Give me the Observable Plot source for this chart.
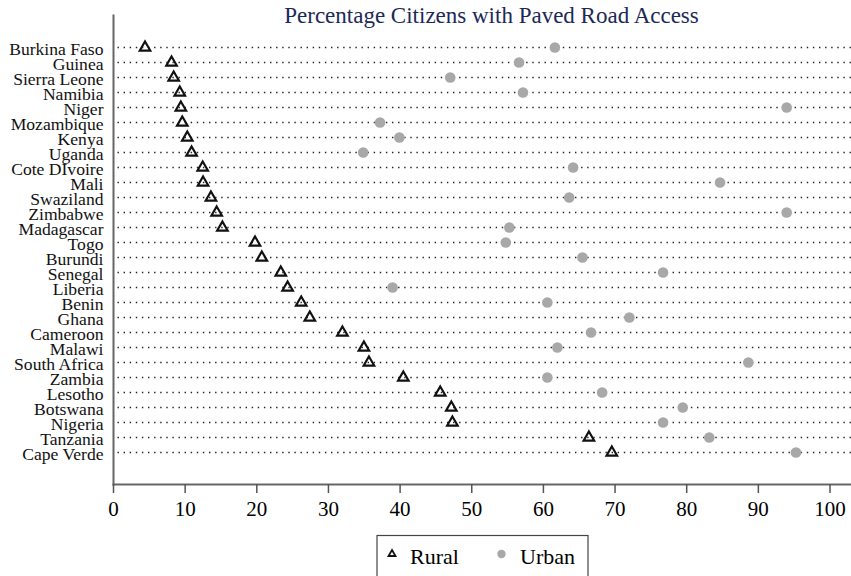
<!DOCTYPE html>
<html>
<head>
<meta charset="utf-8">
<script src="https://cdn.jsdelivr.net/npm/d3@7"></script>
<script src="https://cdn.jsdelivr.net/npm/@observablehq/plot@0.6"></script>
<style>
  html, body { margin: 0; padding: 0; background: white; }
  #wrap { position: relative; width: 851px; height: 576px; overflow: hidden; background: white; }
  #wrap > svg { position: absolute; left: 0; top: 0; }
  #overlay { position: absolute; left: 0; top: 0; pointer-events: none; }
</style>
</head>
<body>
<div id="wrap"></div>
<script>
const title = "Percentage Citizens with Paved Road Access";
const countries = ["Burkina Faso","Guinea","Sierra Leone","Namibia","Niger","Mozambique","Kenya","Uganda","Cote DIvoire","Mali","Swaziland","Zimbabwe","Madagascar","Togo","Burundi","Senegal","Liberia","Benin","Ghana","Cameroon","Malawi","South Africa","Zambia","Lesotho","Botswana","Nigeria","Tanzania","Cape Verde"];
const rural = [4.4, 8.1, 8.4, 9.25, 9.4, 9.6, 10.3, 10.9, 12.45, 12.5, 13.6, 14.4, 15.2, 19.75, 20.7, 23.35, 24.3, 26.2, 27.4, 31.95, 34.95, 35.65, 40.45, 45.6, 47.15, 47.3, 66.35, 69.55];
const urban = [61.6, 56.6, 47.0, 57.15, 93.95, 37.2, 39.9, 34.85, 64.15, 84.65, 63.6, 93.95, 55.25, 54.75, 65.45, 76.7, 38.95, 60.55, 72.0, 66.65, 61.95, 88.6, 60.55, 68.2, 79.45, 76.7, 83.15, 95.25];
const xTicks = [0, 10, 20, 30, 40, 50, 60, 70, 80, 90, 100];
const seriesNames = ["Rural", "Urban"];

const rows = countries.map((c, i) => ({country: c, rural: rural[i], urban: urban[i]}));
const serif = "'Liberation Serif', 'Times New Roman', serif";

const chart = Plot.plot({
  width: 851,
  height: 530,
  marginTop: 15,
  marginBottom: 46,
  marginLeft: 113,
  marginRight: 0,
  style: {fontFamily: serif, background: "white", color: "black"},
  x: {domain: [0, 103]},
  y: {type: "point", domain: countries, range: [45.5, 453.5], padding: 0},
  marks: [
    Plot.ruleY(countries, {y: d => d, stroke: "#222", strokeWidth: 1.4, strokeDasharray: "1.4 4.7", strokeDashoffset: -4.5}),
    Plot.frame({anchor: "left", stroke: "#666", strokeWidth: 2}),
    Plot.frame({anchor: "bottom", stroke: "#666", strokeWidth: 2}),
    Plot.axisX({ticks: xTicks, tickSize: 9, tickPadding: 8, fontSize: 21, stroke: "#555", strokeWidth: 1.5, fill: "black", label: null}),
    Plot.axisY({ticks: [], label: null}),
    Plot.text(countries, {y: d => d, text: d => d, frameAnchor: "left", textAnchor: "end", dx: -10, dy: 2, fontSize: 17.6, fontFamily: serif, fill: "#111"}),
    Plot.dot(rows, {x: "urban", y: "country", r: 5.3, fill: "#a8a8a8"}),
    Plot.dot(rows, {x: "rural", y: "country", symbol: "triangle", r: 3.9, stroke: "#111", strokeWidth: 2.2, fill: "none"})
  ]
});

const wrap = document.getElementById("wrap");
wrap.appendChild(chart);

// Title and legend overlay
const ns = "http://www.w3.org/2000/svg";
const ov = document.createElementNS(ns, "svg");
ov.setAttribute("id", "overlay");
ov.setAttribute("width", 851);
ov.setAttribute("height", 576);
ov.style.fontFamily = serif;
function el(tag, attrs, text) {
  const e = document.createElementNS(ns, tag);
  for (const k in attrs) e.setAttribute(k, attrs[k]);
  if (text != null) e.textContent = text;
  ov.appendChild(e);
  return e;
}
el("text", {x: 491.5, y: 23, "text-anchor": "middle", "font-size": 23, fill: "#1c2957"}, title);
// legend box
el("rect", {x: 377, y: 535.5, width: 211, height: 60, fill: "white", stroke: "#444", "stroke-width": 1.2});
const tri = d3.symbol(d3.symbolTriangle, Math.PI * 2.6 * 2.6)();
el("path", {d: tri, transform: "translate(392,554)", fill: "none", stroke: "#111", "stroke-width": 1.8});
el("text", {x: 410, y: 564, "font-size": 22, fill: "black"}, seriesNames[0]);
el("circle", {cx: 501.5, cy: 554, r: 4.2, fill: "#a8a8a8"});
el("text", {x: 520, y: 564, "font-size": 22, fill: "black"}, seriesNames[1]);
wrap.appendChild(ov);
</script>
</body>
</html>
